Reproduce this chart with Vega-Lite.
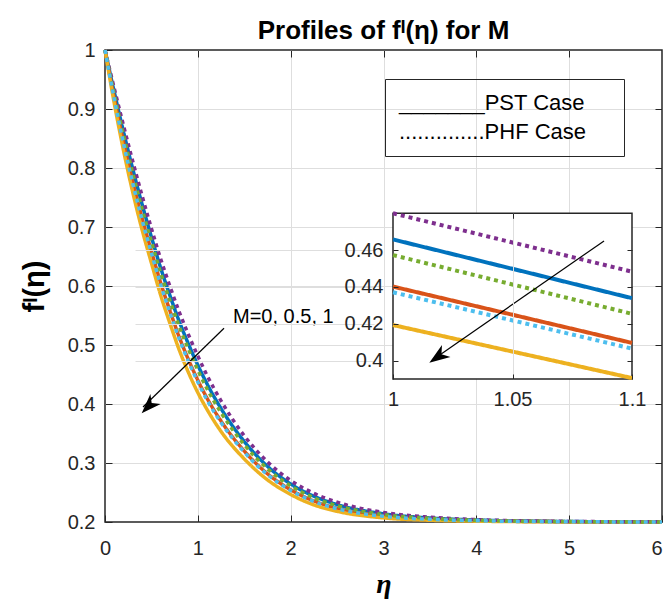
{
  "$schema": "https://vega.github.io/schema/vega-lite/v6.json",
  "width": 557,
  "height": 472,
  "autosize": "none",
  "padding": {"left": 105, "top": 50, "right": 2, "bottom": 84},
  "background": "white",
  "title": {"text": "Profiles of fᴵ(η) for M", "font": "Liberation Sans", "fontSize": 26, "fontWeight": "bold", "color": "black", "offset": -4, "anchor": "middle"},
  "config": {
    "view": {"stroke": "#262626", "strokeWidth": 1.5},
    "axis": {"labelFont": "Liberation Sans", "labelFontSize": 20, "labelColor": "#262626", "labelFlush": false, "tickColor": "#262626", "tickWidth": 1, "gridColor": "#dedede", "gridWidth": 1, "gridOpacity": 1, "domain": false, "titleColor": "black"}
  },
  "datasets": {
    "curves": [
      {"eta": 0, "f": 1, "series": "PST, M=0", "case": "PST"},
      {"eta": 0.1, "f": 0.9285, "series": "PST, M=0", "case": "PST"},
      {"eta": 0.2, "f": 0.861, "series": "PST, M=0", "case": "PST"},
      {"eta": 0.3, "f": 0.7976, "series": "PST, M=0", "case": "PST"},
      {"eta": 0.4, "f": 0.7382, "series": "PST, M=0", "case": "PST"},
      {"eta": 0.5, "f": 0.6829, "series": "PST, M=0", "case": "PST"},
      {"eta": 0.6, "f": 0.6304, "series": "PST, M=0", "case": "PST"},
      {"eta": 0.7, "f": 0.5836, "series": "PST, M=0", "case": "PST"},
      {"eta": 0.8, "f": 0.5398, "series": "PST, M=0", "case": "PST"},
      {"eta": 0.9, "f": 0.5012, "series": "PST, M=0", "case": "PST"},
      {"eta": 1.0, "f": 0.4658, "series": "PST, M=0", "case": "PST"},
      {"eta": 1.1, "f": 0.4339, "series": "PST, M=0", "case": "PST"},
      {"eta": 1.25, "f": 0.3924, "series": "PST, M=0", "case": "PST"},
      {"eta": 1.5, "f": 0.3364, "series": "PST, M=0", "case": "PST"},
      {"eta": 1.75, "f": 0.2944, "series": "PST, M=0", "case": "PST"},
      {"eta": 2, "f": 0.2645, "series": "PST, M=0", "case": "PST"},
      {"eta": 2.25, "f": 0.2437, "series": "PST, M=0", "case": "PST"},
      {"eta": 2.5, "f": 0.2297, "series": "PST, M=0", "case": "PST"},
      {"eta": 3, "f": 0.2139, "series": "PST, M=0", "case": "PST"},
      {"eta": 3.5, "f": 0.2068, "series": "PST, M=0", "case": "PST"},
      {"eta": 4, "f": 0.2034, "series": "PST, M=0", "case": "PST"},
      {"eta": 5, "f": 0.2008, "series": "PST, M=0", "case": "PST"},
      {"eta": 6, "f": 0.2002, "series": "PST, M=0", "case": "PST"},

      {"eta": 0, "f": 1, "series": "PST, M=0.5", "case": "PST"},
      {"eta": 0.1, "f": 0.9181, "series": "PST, M=0.5", "case": "PST"},
      {"eta": 0.2, "f": 0.8436, "series": "PST, M=0.5", "case": "PST"},
      {"eta": 0.3, "f": 0.776, "series": "PST, M=0.5", "case": "PST"},
      {"eta": 0.4, "f": 0.7145, "series": "PST, M=0.5", "case": "PST"},
      {"eta": 0.5, "f": 0.6588, "series": "PST, M=0.5", "case": "PST"},
      {"eta": 0.6, "f": 0.6051, "series": "PST, M=0.5", "case": "PST"},
      {"eta": 0.7, "f": 0.5578, "series": "PST, M=0.5", "case": "PST"},
      {"eta": 0.8, "f": 0.5133, "series": "PST, M=0.5", "case": "PST"},
      {"eta": 0.9, "f": 0.4748, "series": "PST, M=0.5", "case": "PST"},
      {"eta": 1.0, "f": 0.4402, "series": "PST, M=0.5", "case": "PST"},
      {"eta": 1.1, "f": 0.4096, "series": "PST, M=0.5", "case": "PST"},
      {"eta": 1.25, "f": 0.3711, "series": "PST, M=0.5", "case": "PST"},
      {"eta": 1.5, "f": 0.3203, "series": "PST, M=0.5", "case": "PST"},
      {"eta": 1.75, "f": 0.2818, "series": "PST, M=0.5", "case": "PST"},
      {"eta": 2, "f": 0.2547, "series": "PST, M=0.5", "case": "PST"},
      {"eta": 2.25, "f": 0.2356, "series": "PST, M=0.5", "case": "PST"},
      {"eta": 2.5, "f": 0.2234, "series": "PST, M=0.5", "case": "PST"},
      {"eta": 3, "f": 0.2101, "series": "PST, M=0.5", "case": "PST"},
      {"eta": 3.5, "f": 0.2047, "series": "PST, M=0.5", "case": "PST"},
      {"eta": 4, "f": 0.2023, "series": "PST, M=0.5", "case": "PST"},
      {"eta": 5, "f": 0.2005, "series": "PST, M=0.5", "case": "PST"},
      {"eta": 6, "f": 0.2001, "series": "PST, M=0.5", "case": "PST"},

      {"eta": 0, "f": 1, "series": "PST, M=1", "case": "PST"},
      {"eta": 0.1, "f": 0.9095, "series": "PST, M=1", "case": "PST"},
      {"eta": 0.2, "f": 0.8293, "series": "PST, M=1", "case": "PST"},
      {"eta": 0.3, "f": 0.7582, "series": "PST, M=1", "case": "PST"},
      {"eta": 0.4, "f": 0.695, "series": "PST, M=1", "case": "PST"},
      {"eta": 0.5, "f": 0.639, "series": "PST, M=1", "case": "PST"},
      {"eta": 0.6, "f": 0.5843, "series": "PST, M=1", "case": "PST"},
      {"eta": 0.7, "f": 0.5365, "series": "PST, M=1", "case": "PST"},
      {"eta": 0.8, "f": 0.4915, "series": "PST, M=1", "case": "PST"},
      {"eta": 0.9, "f": 0.453, "series": "PST, M=1", "case": "PST"},
      {"eta": 1.0, "f": 0.4193, "series": "PST, M=1", "case": "PST"},
      {"eta": 1.1, "f": 0.3905, "series": "PST, M=1", "case": "PST"},
      {"eta": 1.25, "f": 0.3535, "series": "PST, M=1", "case": "PST"},
      {"eta": 1.5, "f": 0.307, "series": "PST, M=1", "case": "PST"},
      {"eta": 1.75, "f": 0.2715, "series": "PST, M=1", "case": "PST"},
      {"eta": 2, "f": 0.2467, "series": "PST, M=1", "case": "PST"},
      {"eta": 2.25, "f": 0.229, "series": "PST, M=1", "case": "PST"},
      {"eta": 2.5, "f": 0.2181, "series": "PST, M=1", "case": "PST"},
      {"eta": 3, "f": 0.207, "series": "PST, M=1", "case": "PST"},
      {"eta": 3.5, "f": 0.203, "series": "PST, M=1", "case": "PST"},
      {"eta": 4, "f": 0.2014, "series": "PST, M=1", "case": "PST"},
      {"eta": 5, "f": 0.2002, "series": "PST, M=1", "case": "PST"},
      {"eta": 6, "f": 0.2, "series": "PST, M=1", "case": "PST"},

      {"eta": 0, "f": 1, "series": "PHF, M=0", "case": "PHF"},
      {"eta": 0.1, "f": 0.9348, "series": "PHF, M=0", "case": "PHF"},
      {"eta": 0.2, "f": 0.8716, "series": "PHF, M=0", "case": "PHF"},
      {"eta": 0.3, "f": 0.8107, "series": "PHF, M=0", "case": "PHF"},
      {"eta": 0.4, "f": 0.7526, "series": "PHF, M=0", "case": "PHF"},
      {"eta": 0.5, "f": 0.6975, "series": "PHF, M=0", "case": "PHF"},
      {"eta": 0.6, "f": 0.6457, "series": "PHF, M=0", "case": "PHF"},
      {"eta": 0.7, "f": 0.5993, "series": "PHF, M=0", "case": "PHF"},
      {"eta": 0.8, "f": 0.5559, "series": "PHF, M=0", "case": "PHF"},
      {"eta": 0.9, "f": 0.5172, "series": "PHF, M=0", "case": "PHF"},
      {"eta": 1.0, "f": 0.4813, "series": "PHF, M=0", "case": "PHF"},
      {"eta": 1.1, "f": 0.4483, "series": "PHF, M=0", "case": "PHF"},
      {"eta": 1.25, "f": 0.4054, "series": "PHF, M=0", "case": "PHF"},
      {"eta": 1.5, "f": 0.3462, "series": "PHF, M=0", "case": "PHF"},
      {"eta": 1.75, "f": 0.302, "series": "PHF, M=0", "case": "PHF"},
      {"eta": 2, "f": 0.2704, "series": "PHF, M=0", "case": "PHF"},
      {"eta": 2.25, "f": 0.2486, "series": "PHF, M=0", "case": "PHF"},
      {"eta": 2.5, "f": 0.2336, "series": "PHF, M=0", "case": "PHF"},
      {"eta": 3, "f": 0.2162, "series": "PHF, M=0", "case": "PHF"},
      {"eta": 3.5, "f": 0.2081, "series": "PHF, M=0", "case": "PHF"},
      {"eta": 4, "f": 0.204, "series": "PHF, M=0", "case": "PHF"},
      {"eta": 5, "f": 0.201, "series": "PHF, M=0", "case": "PHF"},
      {"eta": 6, "f": 0.2002, "series": "PHF, M=0", "case": "PHF"},

      {"eta": 0, "f": 1, "series": "PHF, M=0.5", "case": "PHF"},
      {"eta": 0.1, "f": 0.925, "series": "PHF, M=0.5", "case": "PHF"},
      {"eta": 0.2, "f": 0.8552, "series": "PHF, M=0.5", "case": "PHF"},
      {"eta": 0.3, "f": 0.7904, "series": "PHF, M=0.5", "case": "PHF"},
      {"eta": 0.4, "f": 0.7303, "series": "PHF, M=0.5", "case": "PHF"},
      {"eta": 0.5, "f": 0.6749, "series": "PHF, M=0.5", "case": "PHF"},
      {"eta": 0.6, "f": 0.6219, "series": "PHF, M=0.5", "case": "PHF"},
      {"eta": 0.7, "f": 0.575, "series": "PHF, M=0.5", "case": "PHF"},
      {"eta": 0.8, "f": 0.531, "series": "PHF, M=0.5", "case": "PHF"},
      {"eta": 0.9, "f": 0.4924, "series": "PHF, M=0.5", "case": "PHF"},
      {"eta": 1.0, "f": 0.4573, "series": "PHF, M=0.5", "case": "PHF"},
      {"eta": 1.1, "f": 0.4254, "series": "PHF, M=0.5", "case": "PHF"},
      {"eta": 1.25, "f": 0.3853, "series": "PHF, M=0.5", "case": "PHF"},
      {"eta": 1.5, "f": 0.331, "series": "PHF, M=0.5", "case": "PHF"},
      {"eta": 1.75, "f": 0.2902, "series": "PHF, M=0.5", "case": "PHF"},
      {"eta": 2, "f": 0.2612, "series": "PHF, M=0.5", "case": "PHF"},
      {"eta": 2.25, "f": 0.241, "series": "PHF, M=0.5", "case": "PHF"},
      {"eta": 2.5, "f": 0.2276, "series": "PHF, M=0.5", "case": "PHF"},
      {"eta": 3, "f": 0.2126, "series": "PHF, M=0.5", "case": "PHF"},
      {"eta": 3.5, "f": 0.2061, "series": "PHF, M=0.5", "case": "PHF"},
      {"eta": 4, "f": 0.203, "series": "PHF, M=0.5", "case": "PHF"},
      {"eta": 5, "f": 0.2007, "series": "PHF, M=0.5", "case": "PHF"},
      {"eta": 6, "f": 0.2001, "series": "PHF, M=0.5", "case": "PHF"},

      {"eta": 0, "f": 1, "series": "PHF, M=1", "case": "PHF"},
      {"eta": 0.1, "f": 0.9168, "series": "PHF, M=1", "case": "PHF"},
      {"eta": 0.2, "f": 0.8415, "series": "PHF, M=1", "case": "PHF"},
      {"eta": 0.3, "f": 0.7734, "series": "PHF, M=1", "case": "PHF"},
      {"eta": 0.4, "f": 0.7116, "series": "PHF, M=1", "case": "PHF"},
      {"eta": 0.5, "f": 0.6559, "series": "PHF, M=1", "case": "PHF"},
      {"eta": 0.6, "f": 0.602, "series": "PHF, M=1", "case": "PHF"},
      {"eta": 0.7, "f": 0.5546, "series": "PHF, M=1", "case": "PHF"},
      {"eta": 0.8, "f": 0.5101, "series": "PHF, M=1", "case": "PHF"},
      {"eta": 0.9, "f": 0.4716, "series": "PHF, M=1", "case": "PHF"},
      {"eta": 1.0, "f": 0.4371, "series": "PHF, M=1", "case": "PHF"},
      {"eta": 1.1, "f": 0.4065, "series": "PHF, M=1", "case": "PHF"},
      {"eta": 1.25, "f": 0.3685, "series": "PHF, M=1", "case": "PHF"},
      {"eta": 1.5, "f": 0.3183, "series": "PHF, M=1", "case": "PHF"},
      {"eta": 1.75, "f": 0.2803, "series": "PHF, M=1", "case": "PHF"},
      {"eta": 2, "f": 0.2535, "series": "PHF, M=1", "case": "PHF"},
      {"eta": 2.25, "f": 0.2347, "series": "PHF, M=1", "case": "PHF"},
      {"eta": 2.5, "f": 0.2226, "series": "PHF, M=1", "case": "PHF"},
      {"eta": 3, "f": 0.2097, "series": "PHF, M=1", "case": "PHF"},
      {"eta": 3.5, "f": 0.2045, "series": "PHF, M=1", "case": "PHF"},
      {"eta": 4, "f": 0.2022, "series": "PHF, M=1", "case": "PHF"},
      {"eta": 5, "f": 0.2004, "series": "PHF, M=1", "case": "PHF"},
      {"eta": 6, "f": 0.2001, "series": "PHF, M=1", "case": "PHF"}
    ]
  },
  "resolve": {"scale": {"x": "independent", "y": "independent"}},
  "layer": [
    {
      "layer": [
        {
          "data": {"name": "curves"},
          "mark": {"type": "line", "strokeWidth": 3.5, "interpolate": "monotone", "strokeCap": "butt"},
          "encoding": {
            "x": {"field": "eta", "type": "quantitative",
                  "scale": {"domain": [0, 6], "nice": false, "zero": false},
                  "axis": {"orient": "bottom", "values": [0, 1, 2, 3, 4, 5, 6], "grid": false, "tickSize": -7, "labelPadding": 23,
                           "labelAlign": {"condition": {"test": "datum.value == 6", "value": "right"}, "value": "center"},
                           "title": "η", "titleFont": "Liberation Serif", "titleFontStyle": "italic", "titleFontWeight": "bold", "titleFontSize": 28, "titlePadding": 12}},
            "y": {"field": "f", "type": "quantitative",
                  "scale": {"domain": [0.2, 1], "nice": false, "zero": false},
                  "axis": {"orient": "left", "values": [0.2, 0.3, 0.4, 0.5, 0.6, 0.7, 0.8, 0.9, 1], "format": ".1~f", "grid": false, "tickSize": -7, "labelPadding": 17,
                           "title": "fᴵ(η)", "titleFont": "Liberation Sans", "titleFontWeight": "bold", "titleFontSize": 29, "titlePadding": 18}},
            "color": {"field": "series", "type": "nominal",
                      "scale": {"domain": ["PST, M=0", "PST, M=0.5", "PST, M=1", "PHF, M=0", "PHF, M=0.5", "PHF, M=1"],
                                "range": ["#0072BD", "#D95319", "#EDB120", "#7E2F8E", "#77AC30", "#4DBEEE"]},
                      "legend": null},
            "strokeDash": {"field": "case", "type": "nominal",
                           "scale": {"domain": ["PST", "PHF"], "range": [[1, 0], [4, 4]]},
                           "legend": {"orient": "none", "legendX": 280, "legendY": 29, "title": null, "padding": 13,
                                      "labelOffset": -222, "symbolOffset": 201, "symbolSize": 1, "symbolOpacity": 0, "symbolStrokeWidth": 0, "symbolType": "circle",
                                      "labelFontSize": 22, "labelFont": "Liberation Sans", "labelColor": "black", "labelLimit": 400, "rowPadding": 7,
                                      "strokeColor": "#262626",
                                      "labelExpr": "datum.label == 'PST' ? '_______PST Case' : '..............PHF Case'"}}
          }
        },
        {
          "data": {"values": [{}]},
          "mark": {"type": "point", "opacity": 0},
          "encoding": {
            "x": {"datum": 0, "type": "quantitative",
                  "axis": {"orient": "top", "values": [1, 2, 3, 4, 5], "labels": false, "grid": true, "tickSize": -7, "title": null}},
            "y": {"datum": 0.2, "type": "quantitative",
                  "axis": {"orient": "right", "values": [0.3, 0.4, 0.5, 0.6, 0.7, 0.8, 0.9], "labels": false, "grid": true, "tickSize": -7, "title": null}}
          }
        },
        {
          "data": {"values": [{}]},
          "mark": {"type": "rule", "color": "black", "strokeWidth": 1.2},
          "encoding": {
            "x": {"datum": 1.282, "type": "quantitative", "axis": null},
            "y": {"datum": 0.5283, "type": "quantitative", "axis": null},
            "x2": {"datum": 0.41},
            "y2": {"datum": 0.395}
          }
        },
        {
          "data": {"values": [{}]},
          "mark": {"type": "point", "shape": "M0,0 L0.36,1 L0,0.72 L-0.36,1 Z", "filled": true, "color": "black", "opacity": 1, "strokeWidth": 0, "size": 1600, "angle": 224},
          "encoding": {
            "x": {"datum": 0.395, "type": "quantitative", "axis": null},
            "y": {"datum": 0.3842, "type": "quantitative", "axis": null}
          }
        },
        {
          "data": {"values": [{}]},
          "mark": {"type": "text", "text": "M=0, 0.5, 1", "align": "left", "baseline": "alphabetic", "font": "Liberation Sans", "fontSize": 20, "color": "black"},
          "encoding": {
            "x": {"datum": 1.379, "type": "quantitative", "axis": null},
            "y": {"datum": 0.5373, "type": "quantitative", "axis": null}
          }
        }
      ]
    },
    {
      "layer": [
        {
          "data": {"values": [{}]},
          "mark": {"type": "rect", "fill": "white", "stroke": "#262626", "strokeWidth": 1.5},
          "encoding": {
            "x": {"datum": 1, "type": "quantitative",
                  "scale": {"domain": [1, 1.1], "range": [288, 527], "nice": false, "zero": false},
                  "axis": {"orient": "bottom", "offset": -143, "values": [1, 1.05, 1.1], "format": ".2~f", "grid": false, "tickSize": -5, "labelPadding": 15.5, "title": null, "zindex": 1}},
            "x2": {"datum": 1.1},
            "y": {"datum": 0.39, "type": "quantitative",
                  "scale": {"domain": [0.39, 0.48], "range": [329, 163.3], "nice": false, "zero": false, "clamp": true},
                  "axis": {"orient": "left", "offset": -288, "values": [0.4, 0.42, 0.44, 0.46], "format": ".2~f", "grid": false, "tickSize": -5, "labelPadding": 15, "title": null, "zindex": 1}},
            "y2": {"datum": 0.48}
          }
        },
        {
          "data": {"values": [{}]},
          "mark": {"type": "point", "opacity": 0},
          "encoding": {
            "x": {"datum": 1, "type": "quantitative",
                  "axis": {"orient": "top", "offset": -163.3, "values": [1.05], "labels": false, "grid": true, "tickSize": -5, "title": null, "zindex": 1}},
            "y": {"datum": 0.4, "type": "quantitative",
                  "axis": {"orient": "right", "offset": -30, "values": [0.4, 0.42, 0.44, 0.46], "labels": false, "grid": true, "tickSize": -5, "title": null, "zindex": 1}}
          }
        },
        {
          "data": {"name": "curves"},
          "transform": [{"filter": "datum.eta >= 1 && datum.eta <= 1.1"}],
          "mark": {"type": "line", "strokeWidth": 4, "strokeCap": "butt"},
          "encoding": {
            "x": {"field": "eta", "type": "quantitative", "axis": null},
            "y": {"field": "f", "type": "quantitative", "axis": null},
            "color": {"field": "series", "type": "nominal", "legend": null},
            "strokeDash": {"field": "case", "type": "nominal", "legend": null}
          }
        },
        {
          "data": {"values": [{}]},
          "mark": {"type": "rule", "color": "black", "strokeWidth": 1.2},
          "encoding": {
            "x": {"datum": 1.0883, "type": "quantitative", "axis": null},
            "y": {"datum": 0.465, "type": "quantitative", "axis": null},
            "x2": {"datum": 1.02},
            "y2": {"datum": 0.4035}
          }
        },
        {
          "data": {"values": [{}]},
          "mark": {"type": "point", "shape": "M0,0 L0.36,1 L0,0.72 L-0.36,1 Z", "filled": true, "color": "black", "opacity": 1, "strokeWidth": 0, "size": 1700, "angle": 235},
          "encoding": {
            "x": {"datum": 1.0152, "type": "quantitative", "axis": null},
            "y": {"datum": 0.3988, "type": "quantitative", "axis": null}
          }
        }
      ]
    }
  ]
}
